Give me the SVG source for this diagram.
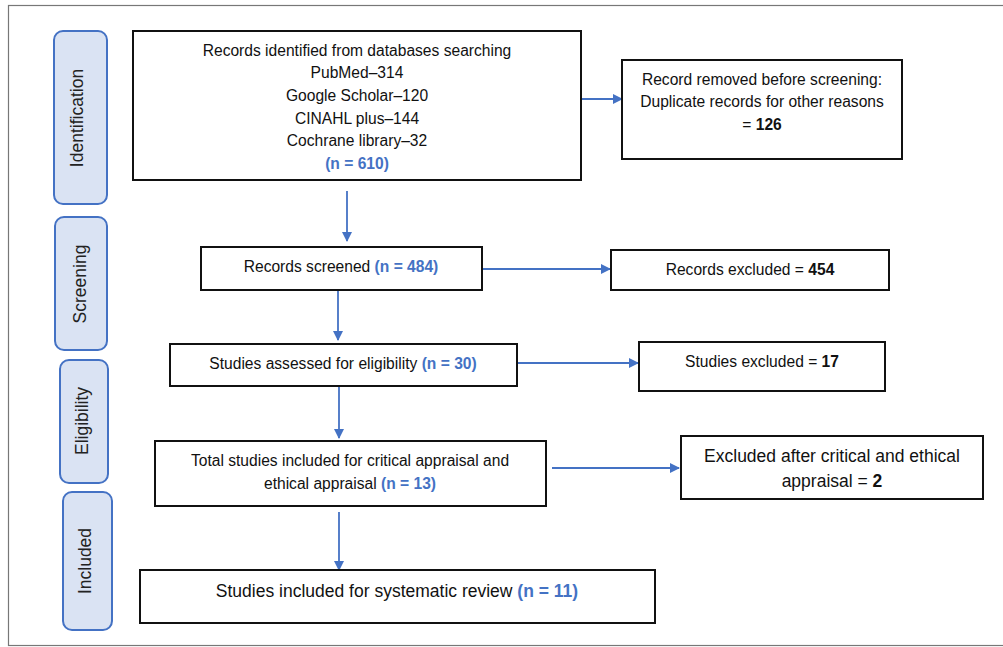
<svg xmlns="http://www.w3.org/2000/svg" width="1003" height="647" viewBox="0 0 1003 647">
<style>
.box{fill:#fff;stroke:#111;stroke-width:2}
.phase{fill:#dae3f3;stroke:#4472c4;stroke-width:2}
.t{font-family:"Liberation Sans",Arial,sans-serif;font-size:15.6px;fill:#111;text-anchor:middle}
.tl{font-family:"Liberation Sans",Arial,sans-serif;font-size:17.5px;fill:#111;text-anchor:middle}
.ph{font-family:"Liberation Sans",Arial,sans-serif;font-size:17.5px;fill:#222;text-anchor:middle}
.n{fill:#4472c4;font-weight:bold}
.b{font-weight:bold}
.c{stroke:#4472c4;stroke-width:1.8;fill:none;marker-end:url(#ah)}
</style>
<defs>
<marker id="ah" viewBox="0 0 10 10" refX="9" refY="5" markerWidth="10" markerHeight="10" orient="auto" markerUnits="userSpaceOnUse">
<path d="M0,0 L10,5 L0,10 z" fill="#4472c4"/>
</marker>
</defs>
<rect x="0" y="0" width="1003" height="647" fill="#fff"/>
<rect x="8.5" y="5.5" width="1010" height="640" fill="none" stroke="#777" stroke-width="1.2"/>

<g id="phase-identification">
<rect class="phase" x="54" y="31" width="53" height="173" rx="9"/>
<text class="ph" transform="translate(83,118) rotate(-90)">Identification</text>
</g>
<g id="phase-screening">
<rect class="phase" x="55" y="217" width="52" height="133" rx="9"/>
<text class="ph" transform="translate(86,284) rotate(-90)">Screening</text>
</g>
<g id="phase-eligibility">
<rect class="phase" x="60" y="360" width="48" height="123" rx="9"/>
<text class="ph" transform="translate(88,421) rotate(-90)">Eligibility</text>
</g>
<g id="phase-included">
<rect class="phase" x="63" y="492" width="49" height="138" rx="9"/>
<text class="ph" transform="translate(91,561) rotate(-90)">Included</text>
</g>

<g id="connectors">
<line class="c" x1="577" y1="99" x2="622" y2="99"/>
<line class="c" x1="347" y1="191" x2="347" y2="241"/>
<line class="c" x1="482" y1="269" x2="610" y2="269"/>
<line class="c" x1="338" y1="290" x2="338" y2="340"/>
<line class="c" x1="513" y1="363" x2="638" y2="363"/>
<line class="c" x1="339" y1="386" x2="339" y2="438"/>
<line class="c" x1="552" y1="468" x2="679" y2="468"/>
<line class="c" x1="339" y1="512" x2="339" y2="570"/>
</g>

<g id="identified">
<rect class="box" x="133" y="31" width="448" height="149"/>
<text class="t" x="357" y="56">Records identified from databases searching</text>
<text class="t" x="357" y="78">PubMed–314</text>
<text class="t" x="357" y="101">Google Scholar–120</text>
<text class="t" x="357" y="124">CINAHL plus–144</text>
<text class="t" x="357" y="146">Cochrane library–32</text>
<text class="t n" x="357" y="169">(n = 610)</text>
</g>
<g id="removed">
<rect class="box" x="622" y="60" width="280" height="99"/>
<text class="t" x="762" y="85">Record removed before screening:</text>
<text class="t" x="762" y="107">Duplicate records for other reasons</text>
<text class="t" x="762" y="130">= <tspan class="b">126</tspan></text>
</g>
<g id="screened">
<rect class="box" x="201" y="247" width="281" height="43"/>
<text class="t" x="341" y="272">Records screened <tspan class="n">(n = 484)</tspan></text>
</g>
<g id="excluded">
<rect class="box" x="611" y="250" width="278" height="40"/>
<text class="t" x="750" y="275">Records excluded = <tspan class="b">454</tspan></text>
</g>
<g id="eligibility">
<rect class="box" x="170" y="344" width="347" height="42"/>
<text class="t" x="343" y="369">Studies assessed for eligibility <tspan class="n">(n = 30)</tspan></text>
</g>
<g id="studies-excluded">
<rect class="box" x="639" y="342" width="246" height="49"/>
<text class="t" x="762" y="367">Studies excluded = <tspan class="b">17</tspan></text>
</g>
<g id="appraisal">
<rect class="box" x="155" y="441" width="391" height="65"/>
<text class="t" x="350" y="466">Total studies included for critical appraisal and</text>
<text class="t" x="350" y="489">ethical appraisal <tspan class="n">(n = 13)</tspan></text>
</g>
<g id="excluded-appraisal">
<rect class="box" x="681" y="436" width="302" height="63"/>
<text class="tl" x="832" y="462">Excluded after critical and ethical</text>
<text class="tl" x="832" y="487">appraisal = <tspan class="b">2</tspan></text>
</g>
<g id="included">
<rect class="box" x="140" y="570" width="515" height="53"/>
<text class="tl" x="397" y="597">Studies included for systematic review <tspan class="n">(n = 11)</tspan></text>
</g>
</svg>
